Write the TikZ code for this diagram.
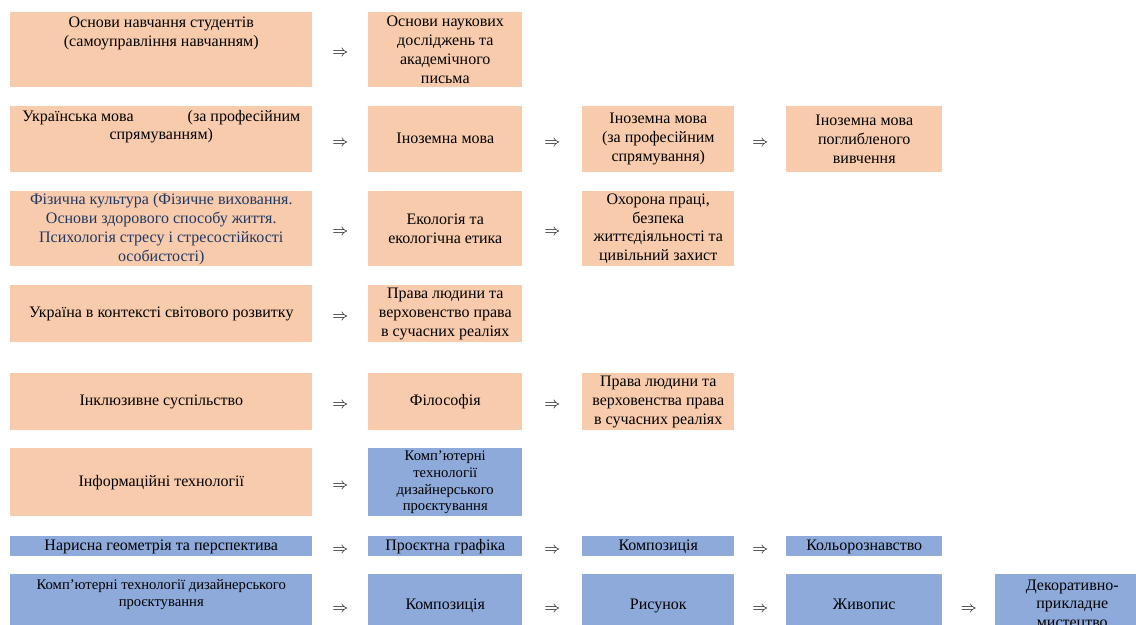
\documentclass[tikz,border=0pt]{standalone}
\usepackage{fontspec}
\setmainfont{Liberation Serif}

\definecolor{peach}{HTML}{F7CBAC}
\definecolor{steel}{HTML}{8EAADB}
\definecolor{navy}{HTML}{1F3864}

\tikzset{
  subject/.style={anchor=north west, inner sep=0pt, align=center,
    font=\fontsize{12pt}{14.2pt}\selectfont},
  warm/.style={subject, fill=peach},
  cool/.style={subject, fill=steel},
  oneline/.style={text height=8.5pt, text depth=2.6pt},
  colA/.style={minimum width=226.5pt},
  colB/.style={minimum width=115.5pt},
  colC/.style={minimum width=114pt},
  colD/.style={minimum width=117pt},
  colE/.style={minimum width=115.5pt},
}
\newcommand{\smalltext}{\fontsize{11pt}{12.7pt}\selectfont}

\begin{document}
\begin{tikzpicture}[x=0.75pt, y=-0.75pt]
\useasboundingbox (0,0) rectangle (1136,625);

        % subjects, row by row
        \node[warm, colA, minimum height=56.25pt] (r1c1) at (10,12)
          {\parbox[c][49.9pt][t]{226pt}{\centering Основи навчання студентів\\(самоуправління навчанням)}};
        \node[warm, colB, minimum height=56.25pt] (r1c2) at (368,12)
          {Основи наукових\\досліджень та\\академічного\\письма};

        \node[warm, colA, minimum height=49.5pt] (r2c1) at (10,106)
          {\parbox[c][44pt][t]{226pt}{\centering\makebox[208.5pt][s]{Українська мова\hfill(за професійним}\\спрямуванням)}};
        \node[warm, colB, oneline, minimum height=49.5pt] (r2c2) at (368,106) {Іноземна мова};
        \node[warm, colC, minimum height=49.5pt] (r2c3) at (582,106)
          {Іноземна мова\\(за професійним\\спрямування)};
        \node[warm, colD, minimum height=49.5pt] (r2c4) at (786,106)
          {Іноземна мова\\поглибленого\\вивчення};

        \node[warm, colA, minimum height=56.25pt, text=navy] (r3c1) at (10,191)
          {Фізична культура (Фізичне виховання.\\Основи здорового способу життя.\\Психологія стресу і стресостійкості\\особистості)};
        \node[warm, colB, minimum height=56.25pt] (r3c2) at (368,191)
          {Екологія та\\екологічна етика};
        \node[warm, colC, minimum height=56.25pt] (r3c3) at (582,191)
          {Охорона праці,\\безпека\\життєдіяльності та\\цивільний захист};

        \node[warm, colA, oneline, minimum height=42.75pt] (r4c1) at (10,285)
          {Україна в контексті світового розвитку};
        \node[warm, colB, minimum height=42.75pt] (r4c2) at (368,285)
          {Права людини та\\верховенство права\\в сучасних реаліях};

        \node[warm, colA, oneline, minimum height=42.75pt] (r5c1) at (10,373)
          {Інклюзивне суспільство};
        \node[warm, colB, oneline, minimum height=42.75pt] (r5c2) at (368,373) {Філософія};
        \node[warm, colC, minimum height=42.75pt] (r5c3) at (582,373)
          {Права людини та\\верховенства права\\в сучасних реаліях};

        \node[warm, colA, oneline, minimum height=51pt] (r6c1) at (10,448)
          {Інформаційні технології};
        \node[cool, colB, minimum height=51pt, font=\smalltext] (r6c2) at (368,448)
          {Комп’ютерні\\технології\\дизайнерського\\проєктування};

        \node[cool, colA, oneline, minimum height=15pt] (r7c1) at (10,536)
          {Нарисна геометрія та перспектива};
        \node[cool, colB, oneline, minimum height=15pt] (r7c2) at (368,536) {Проєктна графіка};
        \node[cool, colC, oneline, minimum height=15pt] (r7c3) at (582,536) {Композиція};
        \node[cool, colD, oneline, minimum height=15pt] (r7c4) at (786,536) {Кольорознавство};

        \node[cool, colA, minimum height=46.5pt, font=\smalltext] (r8c1) at (10,574)
          {\parbox[c][38.7pt][t]{226pt}{\centering Комп’ютерні технології дизайнерського\\проєктування}};
        \node[cool, colB, oneline, minimum height=46.5pt] (r8c2) at (368,574) {Композиція};
        \node[cool, colC, oneline, minimum height=46.5pt] (r8c3) at (582,574) {Рисунок};
        \node[cool, colD, oneline, minimum height=46.5pt] (r8c4) at (786,574) {Живопис};
        \node[cool, colE, minimum height=46.5pt] (r8c5) at (995,574)
          {Декоративно-\\прикладне\\мистецтво};

        % arrows between subjects
        \begin{scope}[every node/.style={yshift=-3pt, inner sep=0pt,
            font=\fontsize{12.5pt}{14pt}\selectfont}]
          \path (r1c1) -- node {$\Rightarrow$} (r1c2);
          \path (r2c1) -- node {$\Rightarrow$} (r2c2);
          \path (r2c2) -- node {$\Rightarrow$} (r2c3);
          \path (r2c3) -- node {$\Rightarrow$} (r2c4);
          \path (r3c1) -- node {$\Rightarrow$} (r3c2);
          \path (r3c2) -- node {$\Rightarrow$} (r3c3);
          \path (r4c1) -- node {$\Rightarrow$} (r4c2);
          \path (r5c1) -- node {$\Rightarrow$} (r5c2);
          \path (r5c2) -- node {$\Rightarrow$} (r5c3);
          \path (r6c1) -- node {$\Rightarrow$} (r6c2);
          \path (r7c1) -- node {$\Rightarrow$} (r7c2);
          \path (r7c2) -- node {$\Rightarrow$} (r7c3);
          \path (r7c3) -- node {$\Rightarrow$} (r7c4);
          \path (r8c1) -- node {$\Rightarrow$} (r8c2);
          \path (r8c2) -- node {$\Rightarrow$} (r8c3);
          \path (r8c3) -- node {$\Rightarrow$} (r8c4);
          \path (r8c4) -- node {$\Rightarrow$} (r8c5);
        \end{scope}

\end{tikzpicture}
\end{document}
